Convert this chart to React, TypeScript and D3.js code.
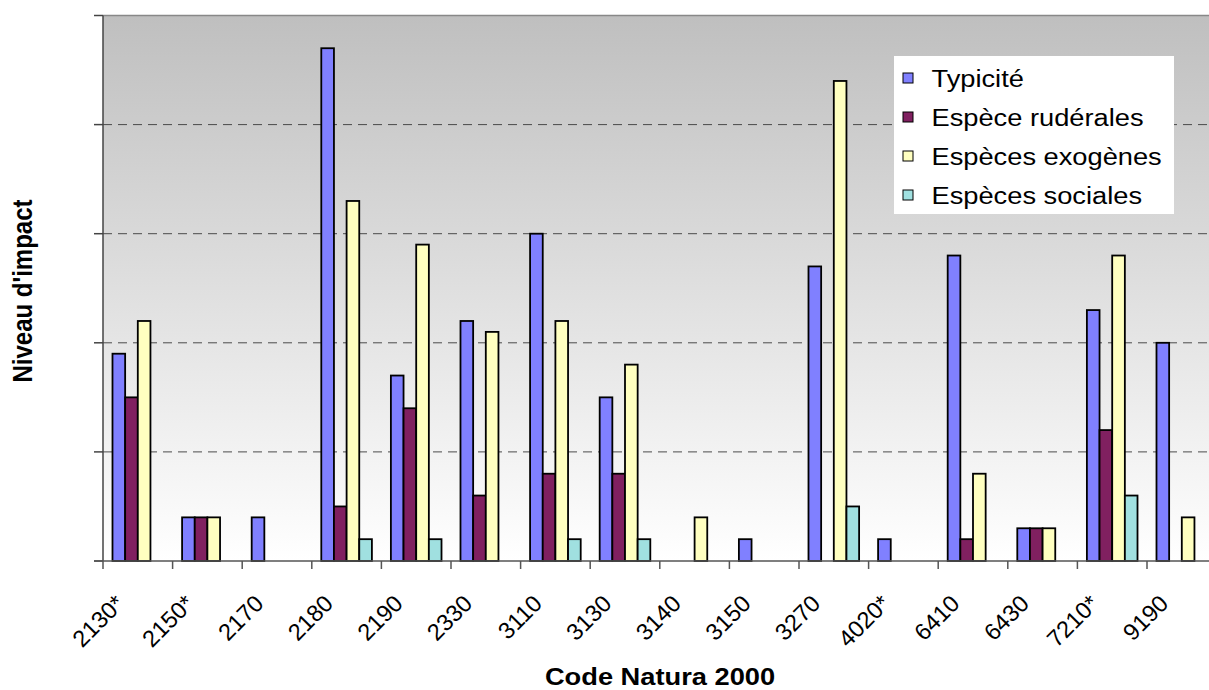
import React from 'react';
import * as d3 from 'd3';

const categories = ['2130*', '2150*', '2170', '2180', '2190', '2330', '3110', '3130', '3140', '3150', '3270', '4020*', '6410', '6430', '7210*', '9190'];
const seriesNames = ['Typicité', 'Espèce rudérales', 'Espèces exogènes', 'Espèces sociales'];
const seriesColors = ['#8080ff', '#802060', '#ffffc0', '#a0e0e0'];

const typicite = [19, 4, 4, 47, 17, 22, 30, 15, 0, 2, 27, 2, 28, 3, 23, 20];
const ruderales = [15, 4, 0, 5, 14, 6, 8, 8, 0, 0, 0, 0, 2, 3, 12, 0];
const exogenes = [22, 4, 0, 33, 29, 21, 22, 18, 4, 0, 44, 0, 8, 3, 28, 4];
const sociales = [0, 0, 0, 2, 2, 0, 2, 2, 0, 0, 5, 0, 0, 0, 6, 0];
const yTicks = [0, 10, 20, 30, 40, 50];

const W = 1209;
const H = 690;
const left = 103;
const top = 15.5;
const bottom = 561;
const step = 69.6;
const stretch = 1.16; // the original text is wider than plain Arial
const font = 'Liberation Sans, Arial, sans-serif';

const App: React.FC = () => {
  const series = [typicite, ruderales, exogenes, sociales];
  const right = left + step * categories.length;

  const x = d3.scaleBand<string>()
    .domain(categories)
    .range([left, right])
    .paddingInner(1.5 / 5.5)
    .paddingOuter(0.75 / 5.5);
  const xs = d3.scaleBand<number>()
    .domain(d3.range(seriesNames.length))
    .range([0, x.bandwidth()]);
  const y = d3.scaleLinear().domain([0, 50]).range([bottom, top]);

  const gap = x.step() * x.paddingInner() / 2;
  const boundaries = categories.map(c => (x(c) as number) - gap).concat([right]);

  return (
    <div style={{ position: 'absolute', left: 0, top: 0 }}>
      <svg width={W} height={H} style={{ display: 'block', background: '#fff' }} fontFamily={font}>
        <defs>
          <linearGradient id="bg" x1="0" y1="0" x2="0" y2="1">
            <stop offset="0" stopColor="#bfbfbf" />
            <stop offset="1" stopColor="#ffffff" />
          </linearGradient>
        </defs>

        {/* plot area */}
        <rect x={left} y={top} width={right - left} height={bottom - top} fill="url(#bg)" />
        <line x1={left} x2={right} y1={top} y2={top} stroke="#888" strokeWidth={1.5} />

        {/* grid */}
        {yTicks.slice(1, -1).map(t => (
          <line key={t} x1={left} x2={right} y1={y(t)} y2={y(t)}
            stroke="#4a4a4a" strokeWidth={1} strokeDasharray="9,6" />
        ))}

        {/* bars */}
        {categories.map((c, i) => (
          <g key={c} transform={`translate(${x(c)},0)`}>
            {series.map((s, k) => s[i] > 0 ? (
              <rect key={k} x={xs(k)} y={y(s[i])} width={xs.bandwidth()} height={bottom - y(s[i])}
                fill={seriesColors[k]} stroke="#000" strokeWidth={1.8} />
            ) : null)}
          </g>
        ))}

        {/* axes */}
        <line x1={left} x2={left} y1={top} y2={bottom} stroke="#444" strokeWidth={1.5} />
        {yTicks.map(t => (
          <line key={t} x1={left - 9} x2={left} y1={y(t)} y2={y(t)} stroke="#444" strokeWidth={1.5} />
        ))}
        <line x1={left - 9} x2={right} y1={bottom} y2={bottom} stroke="#555" strokeWidth={1.5} />
        {boundaries.map((b, i) => (
          <line key={i} x1={b} x2={b} y1={bottom} y2={bottom + 8} stroke="#555" strokeWidth={1.5} />
        ))}

        {/* tick labels */}
        {categories.map(c => {
          const cx = (x(c) as number) + x.bandwidth() / 2 - 12;
          const cy = bottom + 44;
          return (
            <text key={c} transform={`translate(${cx},${cy}) rotate(-45)`} textAnchor="end"
              fontSize={23.5} fill="#000">{c}</text>
          );
        })}

        {/* axis titles */}
        <text transform={`translate(660,685) scale(${stretch},1)`} textAnchor="middle" fontSize={23.5} fontWeight="bold">Code Natura 2000</text>
        <text transform={`translate(32,291) scale(${stretch},1) rotate(-90)`} textAnchor="middle" fontSize={24} fontWeight="bold">Niveau d'impact</text>

        {/* legend */}
        <rect x={894} y={56} width={280} height={158} fill="#fff" />
        {seriesNames.map((n, k) => {
          const cy = 78 + k * 39;
          return (
            <g key={n}>
              <rect x={903} y={cy - 5} width={10} height={10} fill={seriesColors[k]} stroke="#000" strokeWidth={1} />
              <text transform={`translate(931.5,${cy + 8.5}) scale(${stretch},1)`} fontSize={23.5} fill="#000">{n}</text>
            </g>
          );
        })}
      </svg>
    </div>
  );
};

export default App;
